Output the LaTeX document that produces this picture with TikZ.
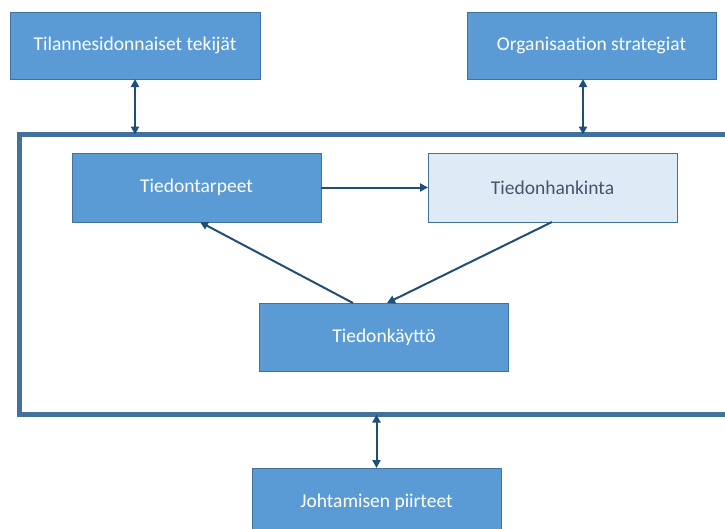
\documentclass[tikz,border=0pt]{standalone}
\usepackage{fontspec}
\setmainfont{Carlito}
\usetikzlibrary{arrows.meta}
\definecolor{boxblue}{HTML}{5B9BD5}
\definecolor{boxedge}{HTML}{41719C}
\definecolor{paleblue}{HTML}{DEEBF7}
\definecolor{darktext}{HTML}{44546A}
\definecolor{arrowblue}{HTML}{1F4E79}
\tikzset{
  bluebox/.style={draw=boxedge, line width=1pt, fill=boxblue, text=white,
    minimum width=249pt, minimum height=68pt, inner sep=0pt, outer sep=0pt,
    font=\fontsize{19.5}{22}\selectfont},
  palebox/.style={bluebox, fill=paleblue, text=darktext},
  outerframe/.style={draw=boxedge, line width=5pt, inner sep=0pt, outer sep=0pt},
  link/.style={draw=arrowblue, line width=2pt, -{Triangle[length=8pt,width=8pt]}},
  biglink/.style={link, {Triangle[length=8pt,width=8pt]}-{Triangle[length=8pt,width=8pt]}}
}
\begin{document}
\begin{tikzpicture}[x=1pt, y=-1pt]
\useasboundingbox (0,0) rectangle (725,528);
\clip (0,0) rectangle (725,528);
\fill[white] (0,0) rectangle (725,528);

% enclosing frame, running past the right edge
\node[outerframe, minimum width=740pt, minimum height=280pt] (frame) at (389.5,274.5) {};

% outer factors
\node[bluebox, minimum width=250pt, minimum height=67pt] (situ) at (135,45.5) {Tilannesidonnaiset tekijät};
\node[bluebox, minimum height=67pt] (strat) at (591.5,45.5) {Organisaation strategiat};
\node[bluebox] (lead) at (376.5,502) {Johtamisen piirteet};

% information cycle
\node[bluebox, minimum height=69pt] (needs) at (196.5,187.5) {Tiedontarpeet};
\node[palebox, minimum height=69pt] (seek) at (552.5,187.5) {Tiedonhankinta};
\node[bluebox] (use) at (384,337) {Tiedonkäyttö};

\draw[link] (needs.east) -- (seek.west);
\draw[link] ([xshift=-0.5pt]seek.south) -- ([xshift=3pt]use.north);
\draw[link] ([xshift=-31pt]use.north) -- ([xshift=3.5pt]needs.south);

% links between the frame and the outer factors
\draw[biglink] (situ.south) -- (situ.south |- frame.north);
\draw[biglink] ([xshift=-8.5pt]strat.south) -- ([xshift=-8.5pt]strat.south |- frame.north);
\draw[biglink] (frame.south -| lead.north) -- (lead.north);
\end{tikzpicture}
\end{document}
